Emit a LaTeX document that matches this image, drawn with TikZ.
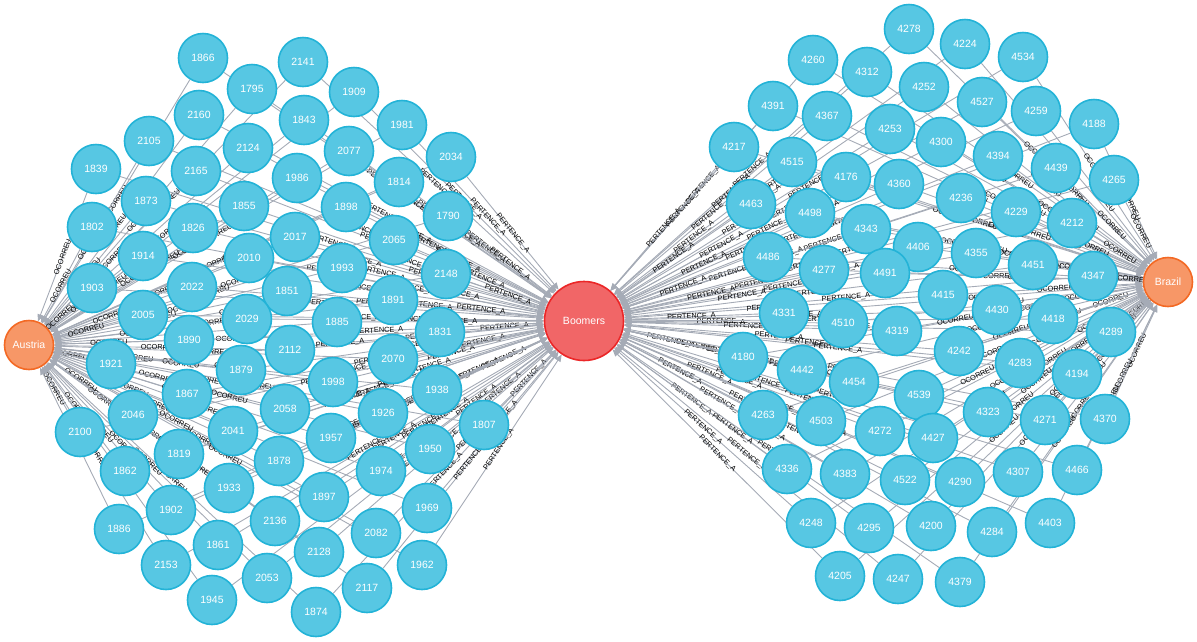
\documentclass[tikz,border=0pt]{standalone}
\usepackage{fontspec}
\setmainfont{Liberation Sans}
\usetikzlibrary{arrows.meta}
\definecolor{nblue}{HTML}{57C7E3}
\definecolor{nbluedark}{HTML}{23B3D7}
\definecolor{norange}{HTML}{F79767}
\definecolor{norangedark}{HTML}{F36924}
\definecolor{nred}{HTML}{F16667}
\definecolor{nreddark}{HTML}{EB2728}
\definecolor{relgray}{HTML}{A5ABB6}
\pgfdeclarelayer{edges}
\pgfsetlayers{edges,main}
\tikzset{
  num/.style={circle, fill=nblue, draw=nbluedark, line width=1.6pt, minimum size=49pt, inner sep=0pt, text=white, font=\fontsize{10.5}{12}\selectfont},
  country/.style={circle, fill=norange, draw=norangedark, line width=1.6pt, minimum size=49pt, inner sep=0pt, text=white, font=\fontsize{10.5}{12}\selectfont},
  group/.style={circle, fill=nred, draw=nreddark, line width=1.6pt, minimum size=79pt, inner sep=0pt, text=white, font=\fontsize{10.5}{12}\selectfont},
  rel/.style={draw=relgray, line width=0.9pt, -{Triangle[length=7pt,width=6pt]}},
  lab/.style={sloped, midway, inner sep=0.3pt, text=black, font=\fontsize{7.3}{8}\selectfont}
}
\begin{document}
\begin{tikzpicture}[x=1pt,y=-1pt]
\useasboundingbox (0,0) rectangle (1197,641);
\node[group] (boomers) at (584,321) {Boomers};
\node[country] (austria) at (29,345) {Austria};
\node[country] (brazil) at (1168,282) {Brazil};
\foreach \n/\x/\y in {1866/203/58, 2141/303/62, 1795/252/89, 1909/354/92, 2160/199/115, 1843/304/120, 1981/402/125, 2105/149/141, 2124/248/148, 2077/349/151, 2034/451/157, 1839/96/169, 2165/196/171, 1986/297/178, 1814/399/182, 1873/146/201, 1855/244/206, 1898/346/207, 1790/448/216, 1802/92/227, 1826/193/228, 2017/295/237, 2065/394/240, 2010/249/258, 1914/143/256, 1993/342/268, 2148/446/274, 1903/92/288, 2022/192/287, 1851/287/291, 1891/393/300, 2005/143/315, 2029/247/319, 1885/337/322, 1831/440/332, 1890/189/340, 2112/290/350, 2070/393/359, 1921/111/364, 1879/241/370, 1998/333/382, 1938/437/390, 1867/187/394, 2058/285/409, 1926/383/413, 1807/484/425, 2046/133/415, 2041/233/431, 1957/331/438, 1950/430/449, 2100/80/432, 1819/179/454, 1878/279/461, 1974/381/471, 1862/125/471, 1933/229/488, 1897/324/497, 1969/427/508, 1902/171/510, 2136/275/521, 2082/376/533, 1886/119/529, 1861/218/545, 2128/319/552, 2153/166/565, 2053/267/578, 1962/422/565, 2117/367/588, 1945/212/600, 1874/316/612} {
  \node[num] (n\n) at (\x,\y) {\n};
  \begin{pgfonlayer}{edges}
    \draw[rel] (n\n) -- node[lab]{OCORREU} (austria);
    \draw[rel] (n\n) -- node[lab]{PERTENCE\_A} (boomers);
  \end{pgfonlayer}
}
\foreach \n/\x/\y in {4278/909/29, 4224/965/44, 4534/1023/57, 4260/813/60, 4312/867/72, 4252/924/87, 4527/982/102, 4259/1036/111, 4391/773/106, 4367/827/116, 4188/1094/124, 4253/890/129, 4300/941/142, 4394/998/156, 4217/734/147, 4515/792/162, 4439/1056/168, 4176/846/177, 4360/899/184, 4236/961/198, 4265/1114/180, 4229/1016/212, 4463/751/204, 4498/810/213, 4212/1072/223, 4343/866/229, 4406/918/247, 4355/976/253, 4451/1033/265, 4486/768/257, 4277/824/270, 4491/885/273, 4347/1093/276, 4415/943/295, 4331/784/313, 4510/843/323, 4319/897/331, 4430/997/310, 4418/1053/319, 4289/1111/332, 4242/959/351, 4180/743/357, 4442/802/370, 4283/1020/363, 4454/854/382, 4194/1077/374, 4539/919/395, 4263/763/415, 4503/821/421, 4272/880/431, 4323/988/412, 4427/933/438, 4271/1045/420, 4370/1105/419, 4336/787/469, 4383/845/474, 4522/905/480, 4290/960/482, 4307/1018/472, 4466/1077/470, 4248/811/523, 4295/869/528, 4200/931/526, 4284/992/532, 4403/1050/523, 4205/840/576, 4247/898/579, 4379/960/582} {
  \node[num] (n\n) at (\x,\y) {\n};
  \begin{pgfonlayer}{edges}
    \draw[rel] (n\n) -- node[lab]{OCORREU} (brazil);
    \draw[rel] (n\n) -- node[lab]{PERTENCE\_A} (boomers);
  \end{pgfonlayer}
}
\end{tikzpicture}
\end{document}
